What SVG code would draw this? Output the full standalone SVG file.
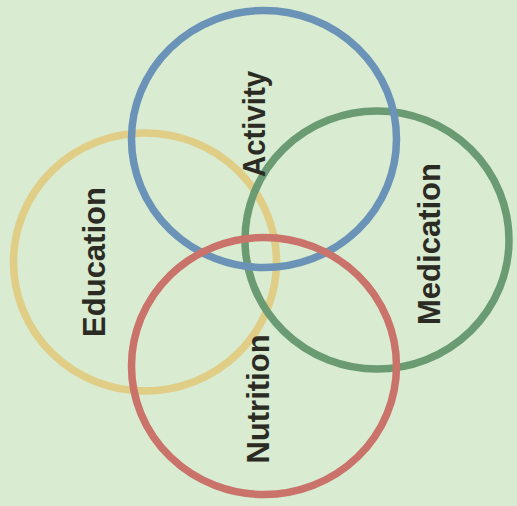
<svg xmlns="http://www.w3.org/2000/svg" width="517" height="506" viewBox="0 0 517 506">
<style>
.ring{fill:none;stroke-width:7.5}
.lbl{font-family:"Liberation Sans",Arial,sans-serif;font-weight:bold;font-size:31px;fill:#2b2b24;text-anchor:middle}
</style>
<rect width="517" height="506" fill="#d9ebd1"/>
<g id="education"><ellipse class="ring" cx="145" cy="262" rx="131.5" ry="129" stroke="#e0cd86"/></g>
<g id="medication"><ellipse class="ring" cx="377" cy="240" rx="132" ry="129" stroke="#6a9b73"/></g>
<g id="activity"><ellipse class="ring" cx="264" cy="139" rx="132.5" ry="128.5" stroke="#6a93b7"/></g>
<g id="nutrition"><ellipse class="ring" cx="264" cy="366" rx="132.5" ry="128.5" stroke="#c9736a"/></g>
<g id="labels">
<text class="lbl" transform="translate(105,262) rotate(-90)">Education</text>
<text class="lbl" transform="translate(265,124) rotate(-90)" textLength="106" lengthAdjust="spacingAndGlyphs">Activity</text>
<text class="lbl" transform="translate(440,244) rotate(-90)">Medication</text>
<text class="lbl" transform="translate(269,399) rotate(-90)">Nutrition</text>
</g>
<g id="connectors"/>
</svg>
